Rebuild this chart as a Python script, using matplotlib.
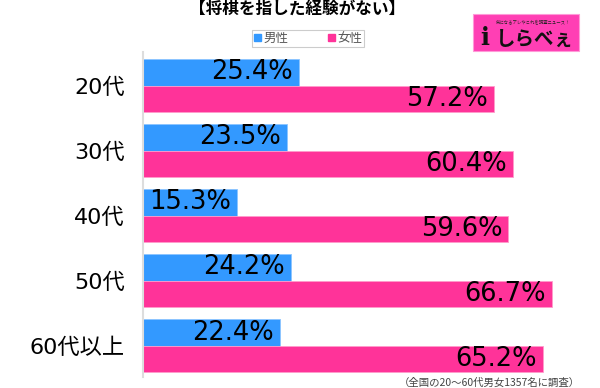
import matplotlib
matplotlib.use("Agg")
import matplotlib.pyplot as plt
from matplotlib.patches import Rectangle, Patch

plt.rcParams['font.family'] = ['DejaVu Sans', 'Noto Sans CJK JP']
JP = ['Noto Sans CJK JP', 'DejaVu Sans']

# data
categories = ["20代", "30代", "40代", "50代", "60代以上"]
male = [25.4, 23.5, 15.3, 24.2, 22.4]
female = [57.2, 60.4, 59.6, 66.7, 65.2]
series_names = ["男性", "女性"]
title = "【将棋を指した経験がない】"
note = "（全国の20～60代男女1357名に調査）"

BLUE = "#3399ff"
PINK = "#ff3399"

fig = plt.figure(figsize=(6, 3.88), dpi=100)
ax = fig.add_axes([143 / 600, 1 - 377 / 388, 447.5 / 600, 325 / 388])

h = 0.408
ys = list(range(len(categories)))
yb = [y - h / 2 for y in ys]
yp = [y + h / 2 for y in ys]
bars_m = ax.barh(yb, male, height=h, color=BLUE, edgecolor="#8cc4ff", linewidth=0.6)
bars_f = ax.barh(yp, female, height=h, color=PINK, edgecolor="#ff9ccc", linewidth=0.6)

ax.set_xlim(0, 73)
ax.set_ylim(4.48, -0.518)

for bars, vals in ((bars_m, male), (bars_f, female)):
    for b, v in zip(bars, vals):
        ax.annotate(f"{v}%", xy=(v, b.get_y() + b.get_height() / 2),
                    xytext=(-4.5, 0), textcoords="offset points",
                    ha="right", va="center", fontsize=18.5, color="black")

ax.set_yticks(ys)
ax.set_yticklabels(categories, fontsize=16)
ax.tick_params(axis="y", length=0, pad=13)
ax.set_xticks([])
for s in ("top", "right", "bottom"):
    ax.spines[s].set_visible(False)
ax.spines["left"].set_color("#dddddd")
ax.spines["left"].set_linewidth(1.5)

fig.text(0.495, 1 - 10 / 388, title, ha="center", va="center",
         fontsize=12, fontweight="bold", family=JP)

handles = [Patch(color=BLUE, label=series_names[0]),
           Patch(color=PINK, label=series_names[1])]
leg = fig.legend(handles=handles, loc="center", bbox_to_anchor=(308 / 600, 1 - 38.5 / 388),
                 ncol=2, fancybox=False, edgecolor="#cccccc",
                 prop={'family': JP, 'size': 9},
                 handlelength=0.55, handleheight=0.55, handletextpad=0.2,
                 columnspacing=3.2, borderpad=0.15, labelcolor="#555555",
                 framealpha=1)
leg.get_frame().set_linewidth(0.8)

# logo
fig.patches.append(Rectangle((473 / 600, 1 - 51 / 388), 106 / 600, 37 / 388,
                             transform=fig.transFigure, facecolor="#ff3fb4",
                             edgecolor="#ff9ad8", linewidth=0.8))
fig.text(533 / 600, 1 - 22 / 388, "気になるアレやこれを調査ニュース！",
         ha="center", va="center", fontsize=3.2, color="#222222", family=JP)
fig.text(485 / 600, 1 - 38 / 388, "i", ha="center", va="center",
         fontsize=17, fontweight="bold", color="#111111", family="DejaVu Serif")
fig.text(535 / 600, 1 - 39 / 388, "しらべぇ", ha="center", va="center",
         fontsize=14, fontweight="bold", color="#111111", family=JP)

fig.text(580 / 600, 1 - 383 / 388, note, ha="right", va="center",
         fontsize=7.5, color="#444444", family=JP)

fig.savefig("out.png", dpi=100)
